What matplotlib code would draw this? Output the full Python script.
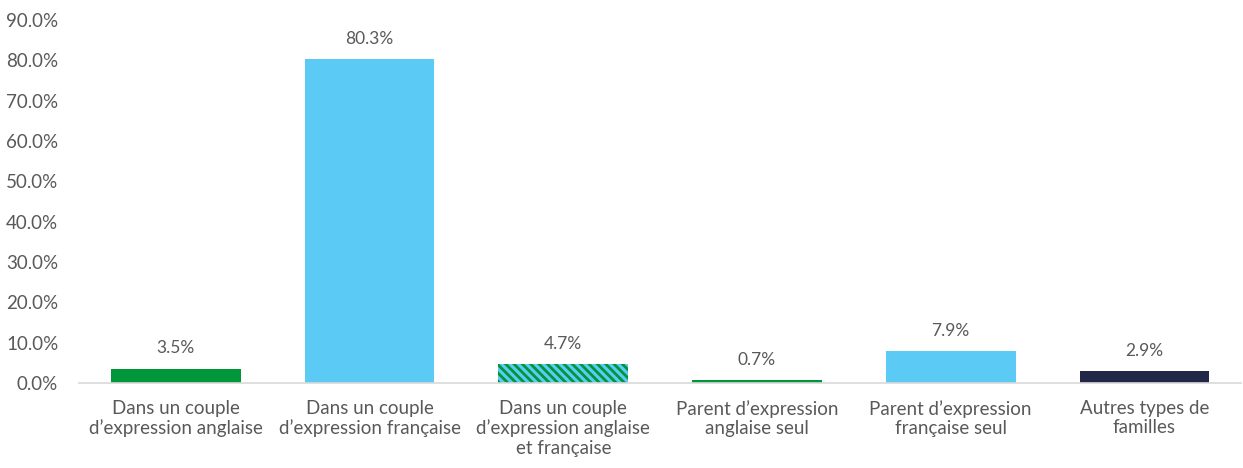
import matplotlib
matplotlib.use('Agg')
import matplotlib.pyplot as plt
from matplotlib.ticker import PercentFormatter

categories = [
    'Dans un couple\nd\u2019expression anglaise',
    'Dans un couple\nd\u2019expression française',
    'Dans un couple\nd\u2019expression anglaise\net française',
    'Parent d\u2019expression\nanglaise seul',
    'Parent d\u2019expression\nfrançaise seul',
    'Autres types de\nfamilles',
]
values = [3.5, 80.3, 4.7, 0.7, 7.9, 2.9]
labels = ['3.5%', '80.3%', '4.7%', '0.7%', '7.9%', '2.9%']

GREEN = '#009639'
BLUE = '#5BCBF5'
NAVY = '#222747'
TEXT = '#595959'
colors = [GREEN, BLUE, BLUE, GREEN, BLUE, NAVY]

plt.rcParams['font.family'] = ['Lato', 'DejaVu Sans']
plt.rcParams['hatch.linewidth'] = 2.0

fig = plt.figure(figsize=(12.43, 4.68), dpi=100)
ax = fig.add_axes([0.0636, 0.1816, 0.935, 0.7754])

x = range(len(categories))
bars = ax.bar(x, values, width=0.67, color=colors, linewidth=0)

# mixed couple bar: striped green / blue
bars[2].set_facecolor(BLUE)
bars[2].set_hatch('\\\\\\\\')
bars[2].set_edgecolor(GREEN)

for b, lab in zip(bars, labels):
    ax.annotate(lab, (b.get_x() + b.get_width() / 2, b.get_height()),
                xytext=(0, 9), textcoords='offset points',
                ha='center', va='bottom', fontsize=12.5, color=TEXT)

ax.set_xlim(-0.5, len(categories) - 0.5)
ax.set_ylim(0, 90)
ax.set_yticks(range(0, 91, 10))
ax.yaxis.set_major_formatter(PercentFormatter(decimals=1))
ax.set_xticks(list(x))
ax.set_xticklabels(categories)

for s in ['top', 'right', 'left']:
    ax.spines[s].set_visible(False)
ax.spines['bottom'].set_color('#D9D9D9')
ax.spines['bottom'].set_linewidth(1.2)
ax.tick_params(axis='both', length=0, labelsize=13.5, colors=TEXT)
ax.tick_params(axis='x', pad=12)
ax.tick_params(axis='y', pad=15)

fig.savefig('out.png', dpi=100)
